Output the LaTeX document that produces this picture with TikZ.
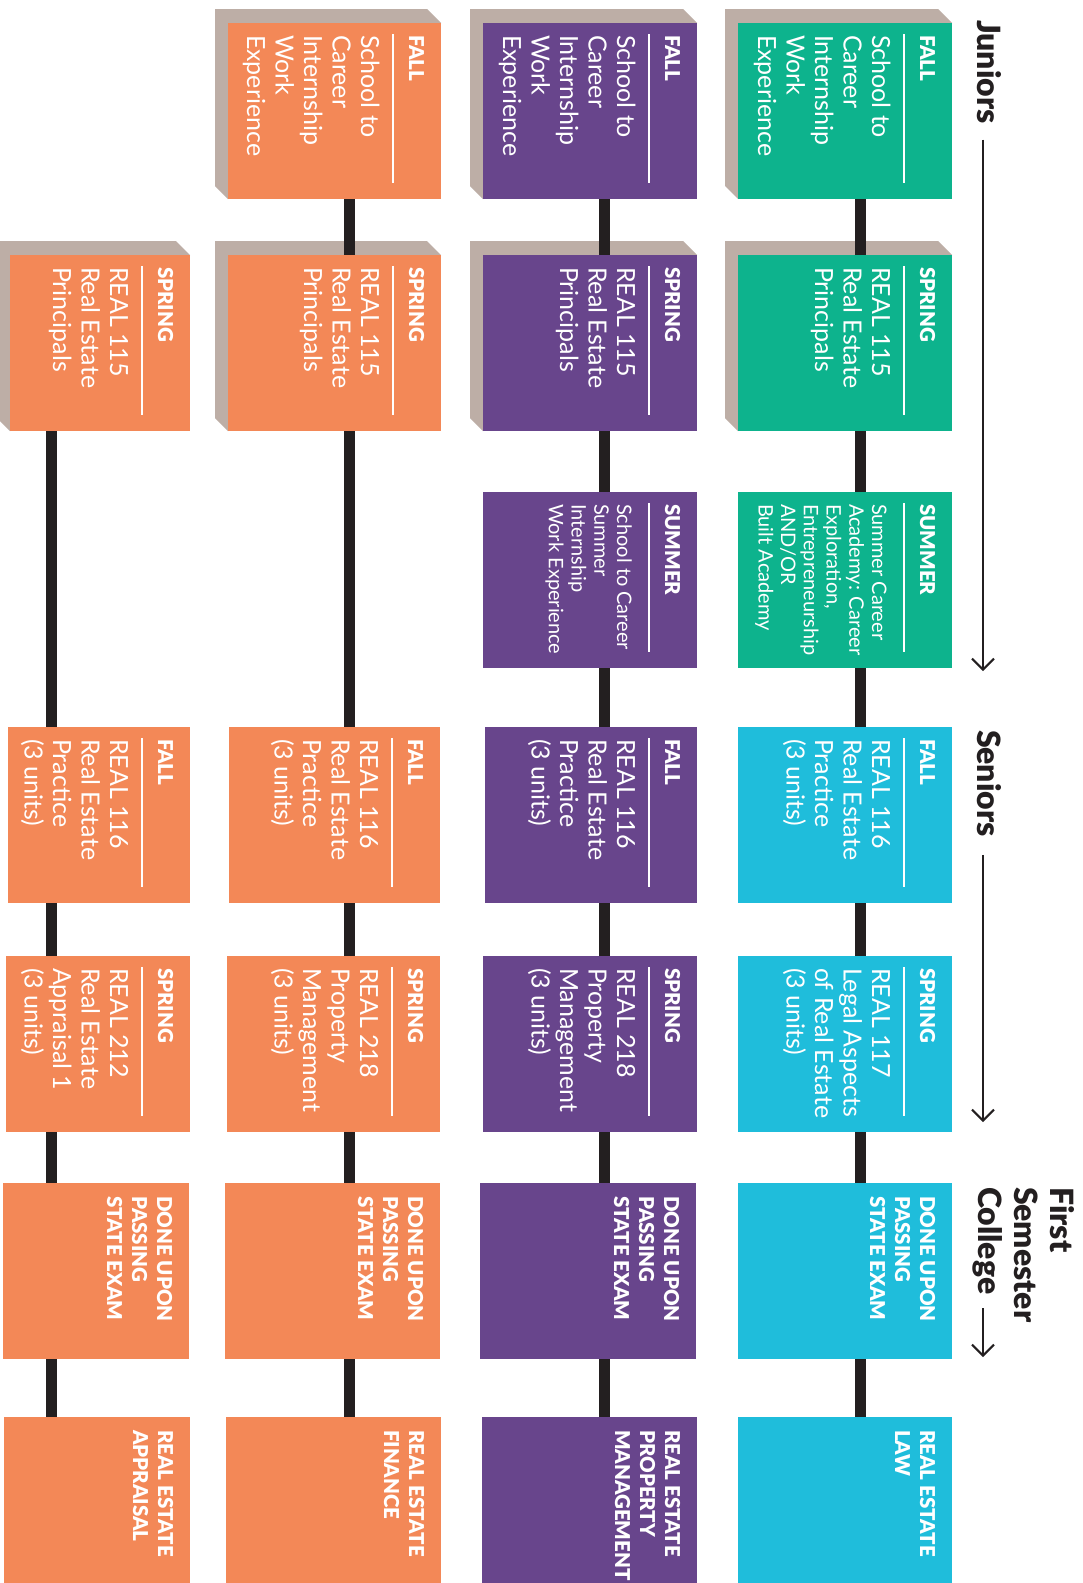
\documentclass[tikz,border=0pt]{standalone}
\usepackage{fontspec}
\setmainfont{Lato}
\IfFontExistsTF{Lato Black}{\newfontfamily\hvyfont{Lato Black}}{\newcommand{\hvyfont}{\bfseries}}
\usetikzlibrary{arrows.meta}
\definecolor{tealc}{HTML}{0DB38D}
\definecolor{cyanc}{HTML}{1FBDDB}
\definecolor{purpc}{HTML}{68458C}
\definecolor{orngc}{HTML}{F38857}
\definecolor{shadc}{HTML}{BDAEA6}
\definecolor{connc}{HTML}{231F20}
\newcommand{\Ln}[1]{\hbox{#1}}
\newcommand{\vlines}[2]{\vtop{\baselineskip=#1pt\lineskiplimit=-1000pt\lineskip=0pt #2}}
% shadow: L T R B
\newcommand{\shadowpoly}[4]{\fill[shadc] (#1-13,#2-14) -- (#3-14,#2-14) -- (#3,#2) -- (#1,#4) -- (#1-13,#4-13) -- cycle;}
% box: name color L T R B
\newcommand{\cbox}[6]{\node[boxn, fill=#2, minimum width={(#5)-(#3)}, minimum height={(#6)-(#4)}] (#1) at (#3,#4) {};}
% header + rule: name T R B text
\newcommand{\hdrule}[5]{\node[hdrs] (#1) at (#3-32,#2+12) {#5};
  \draw[rulel] (#3-48,#2+11) -- (#3-48,#4-16);}
% body: name T R style lines
\newcommand{\bodytext}[5]{\node[#4] (#1) at (#3-80,#2+12) {#5};}
% bold block (done / final): name T R lines
\newcommand{\boldblock}[4]{\node[hdrs] (#1) at (#3-32,#2+13) {\vlines{25}{#4}};}
\tikzset{
  boxn/.style={rectangle, inner sep=0pt, outer sep=0pt, anchor=north west, draw=none},
  rotxt/.style={rotate=-90, anchor=base west, inner sep=0pt, outer sep=0pt, text=white},
  hdrs/.style={rotxt, font=\hvyfont\fontsize{20.5}{25}\selectfont},
  bodyl/.style={rotxt, font=\fontsize{25}{28.5}\selectfont},
  bodys/.style={rotxt, font=\fontsize{20}{22.7}\selectfont},
  rulel/.style={draw=white, line width=2pt},
  conn/.style={draw=connc, line width=11pt, line cap=butt},
  lab/.style={rotate=-90, anchor=base west, inner sep=0pt, outer sep=0pt, text=connc, font=\hvyfont\fontsize{32}{36}\selectfont},
  arr/.style={draw=connc, line width=2pt, -{Straight Barb[length=11pt,width=22pt,line width=2pt]}}
}
\begin{document}
\begin{tikzpicture}[x=1pt,y=-1pt]
\fill[white] (0,0) rectangle (1083,1583);
\useasboundingbox (0,0) rectangle (1083,1583);
% ---------- Column 1 ----------
\shadowpoly{738}{23}{952}{199}
\cbox{c1r1}{tealc}{738}{23}{952}{199}
\hdrule{c1r1h}{23}{952}{199}{FALL}
\bodytext{c1r1b}{23}{952}{bodyl}{\vlines{28.5}{\Ln{School to}\Ln{Career}\Ln{Internship}\Ln{Work}\Ln{Experience}}}
\shadowpoly{738}{255}{952}{431}
\cbox{c1r2}{tealc}{738}{255}{952}{431}
\hdrule{c1r2h}{255}{952}{431}{SPRING}
\bodytext{c1r2b}{255}{952}{bodyl}{\vlines{28.5}{\Ln{REAL 115}\Ln{Real Estate}\Ln{Principals}}}
\cbox{c1r3}{tealc}{738}{492}{952}{668}
\hdrule{c1r3h}{492}{952}{668}{SUMMER}
\bodytext{c1r3b}{492}{952}{bodys}{\vlines{22.7}{\Ln{Summer Career}\Ln{Academy: Career}\Ln{Exploration,}\Ln{Entrepreneurship}\Ln{AND/OR}\Ln{Built Academy}}}
\cbox{c1r4}{cyanc}{738}{727}{952}{903}
\hdrule{c1r4h}{727}{952}{903}{FALL}
\bodytext{c1r4b}{727}{952}{bodyl}{\vlines{28.5}{\Ln{REAL 116}\Ln{Real Estate}\Ln{Practice}\Ln{(3 units)}}}
\cbox{c1r5}{cyanc}{738}{956}{952}{1132}
\hdrule{c1r5h}{956}{952}{1132}{SPRING}
\bodytext{c1r5b}{956}{952}{bodyl}{\vlines{28.5}{\Ln{REAL 117}\Ln{Legal Aspects}\Ln{of Real Estate}\Ln{(3 units)}}}
\cbox{c1r6}{cyanc}{738}{1183}{952}{1359}
\boldblock{c1r6t}{1183}{952}{\Ln{DONE UPON}\Ln{PASSING}\Ln{STATE EXAM}}
\cbox{c1r7}{cyanc}{738}{1417}{952}{1600}
\boldblock{c1r7t}{1417}{952}{\Ln{REAL ESTATE}\Ln{LAW}}
% ---------- Column 2 ----------
\shadowpoly{483}{23}{697}{199}
\cbox{c2r1}{purpc}{483}{23}{697}{199}
\hdrule{c2r1h}{23}{697}{199}{FALL}
\bodytext{c2r1b}{23}{697}{bodyl}{\vlines{28.5}{\Ln{School to}\Ln{Career}\Ln{Internship}\Ln{Work}\Ln{Experience}}}
\shadowpoly{483}{255}{697}{431}
\cbox{c2r2}{purpc}{483}{255}{697}{431}
\hdrule{c2r2h}{255}{697}{431}{SPRING}
\bodytext{c2r2b}{255}{697}{bodyl}{\vlines{28.5}{\Ln{REAL 115}\Ln{Real Estate}\Ln{Principals}}}
\cbox{c2r3}{purpc}{483}{492}{697}{668}
\hdrule{c2r3h}{492}{697}{668}{SUMMER}
\bodytext{c2r3b}{492}{697}{bodys}{\vlines{22.7}{\Ln{School to Career}\Ln{Summer}\Ln{Internship}\Ln{Work Experience}}}
\cbox{c2r4}{purpc}{485}{727}{697}{903}
\hdrule{c2r4h}{727}{697}{903}{FALL}
\bodytext{c2r4b}{727}{697}{bodyl}{\vlines{28.5}{\Ln{REAL 116}\Ln{Real Estate}\Ln{Practice}\Ln{(3 units)}}}
\cbox{c2r5}{purpc}{483}{956}{697}{1132}
\hdrule{c2r5h}{956}{697}{1132}{SPRING}
\bodytext{c2r5b}{956}{697}{bodyl}{\vlines{28.5}{\Ln{REAL 218}\Ln{Property}\Ln{Management}\Ln{(3 units)}}}
\cbox{c2r6}{purpc}{480}{1183}{696}{1359}
\boldblock{c2r6t}{1183}{696}{\Ln{DONE UPON}\Ln{PASSING}\Ln{STATE EXAM}}
\cbox{c2r7}{purpc}{482}{1417}{697}{1600}
\boldblock{c2r7t}{1417}{697}{\Ln{REAL ESTATE}\Ln{PROPERTY}\Ln{MANAGEMENT}}
% ---------- Column 3 ----------
\shadowpoly{228}{23}{441}{199}
\cbox{c3r1}{orngc}{228}{23}{441}{199}
\hdrule{c3r1h}{23}{441}{199}{FALL}
\bodytext{c3r1b}{23}{441}{bodyl}{\vlines{28.5}{\Ln{School to}\Ln{Career}\Ln{Internship}\Ln{Work}\Ln{Experience}}}
\shadowpoly{228}{255}{441}{431}
\cbox{c3r2}{orngc}{228}{255}{441}{431}
\hdrule{c3r2h}{255}{441}{431}{SPRING}
\bodytext{c3r2b}{255}{441}{bodyl}{\vlines{28.5}{\Ln{REAL 115}\Ln{Real Estate}\Ln{Principals}}}
\cbox{c3r4}{orngc}{229}{727}{440}{903}
\hdrule{c3r4h}{727}{440}{903}{FALL}
\bodytext{c3r4b}{727}{440}{bodyl}{\vlines{28.5}{\Ln{REAL 116}\Ln{Real Estate}\Ln{Practice}\Ln{(3 units)}}}
\cbox{c3r5}{orngc}{227}{956}{440}{1132}
\hdrule{c3r5h}{956}{440}{1132}{SPRING}
\bodytext{c3r5b}{956}{440}{bodyl}{\vlines{28.5}{\Ln{REAL 218}\Ln{Property}\Ln{Management}\Ln{(3 units)}}}
\cbox{c3r6}{orngc}{225}{1183}{440}{1359}
\boldblock{c3r6t}{1183}{440}{\Ln{DONE UPON}\Ln{PASSING}\Ln{STATE EXAM}}
\cbox{c3r7}{orngc}{226}{1417}{441}{1600}
\boldblock{c3r7t}{1417}{441}{\Ln{REAL ESTATE}\Ln{FINANCE}}
% ---------- Column 4 ----------
\shadowpoly{10}{255}{190}{431}
\cbox{c4r2}{orngc}{10}{255}{190}{431}
\hdrule{c4r2h}{255}{190}{431}{SPRING}
\bodytext{c4r2b}{255}{190}{bodyl}{\vlines{28.5}{\Ln{REAL 115}\Ln{Real Estate}\Ln{Principals}}}
\cbox{c4r4}{orngc}{8}{727}{190}{903}
\hdrule{c4r4h}{727}{190}{903}{FALL}
\bodytext{c4r4b}{727}{190}{bodyl}{\vlines{28.5}{\Ln{REAL 116}\Ln{Real Estate}\Ln{Practice}\Ln{(3 units)}}}
\cbox{c4r5}{orngc}{6}{956}{190}{1132}
\hdrule{c4r5h}{956}{190}{1132}{SPRING}
\bodytext{c4r5b}{956}{190}{bodyl}{\vlines{28.5}{\Ln{REAL 212}\Ln{Real Estate}\Ln{Appraisal 1}\Ln{(3 units)}}}
\cbox{c4r6}{orngc}{3}{1183}{189}{1359}
\boldblock{c4r6t}{1183}{189}{\Ln{DONE UPON}\Ln{PASSING}\Ln{STATE EXAM}}
\cbox{c4r7}{orngc}{4}{1417}{190}{1600}
\boldblock{c4r7t}{1417}{190}{\Ln{REAL ESTATE}\Ln{APPRAISAL}}
% ---------- Connectors ----------
\coordinate (x1) at (860,0);
\coordinate (x2) at (604,0);
\coordinate (x3) at (349,0);
\coordinate (x4) at (51,0);
\draw[conn] (c1r1.south -| x1) -- (c1r2.north -| x1);
\draw[conn] (c1r2.south -| x1) -- (c1r3.north -| x1);
\draw[conn] (c1r3.south -| x1) -- (c1r4.north -| x1);
\draw[conn] (c1r4.south -| x1) -- (c1r5.north -| x1);
\draw[conn] (c1r5.south -| x1) -- (c1r6.north -| x1);
\draw[conn] (c1r6.south -| x1) -- (c1r7.north -| x1);
\draw[conn] (c2r1.south -| x2) -- (c2r2.north -| x2);
\draw[conn] (c2r2.south -| x2) -- (c2r3.north -| x2);
\draw[conn] (c2r3.south -| x2) -- (c2r4.north -| x2);
\draw[conn] (c2r4.south -| x2) -- (c2r5.north -| x2);
\draw[conn] (c2r5.south -| x2) -- (c2r6.north -| x2);
\draw[conn] (c2r6.south -| x2) -- (c2r7.north -| x2);
\draw[conn] (c3r1.south -| x3) -- (c3r2.north -| x3);
\draw[conn] (c3r2.south -| x3) -- (c3r4.north -| x3);
\draw[conn] (c3r4.south -| x3) -- (c3r5.north -| x3);
\draw[conn] (c3r5.south -| x3) -- (c3r6.north -| x3);
\draw[conn] (c3r6.south -| x3) -- (c3r7.north -| x3);
\draw[conn] (c4r2.south -| x4) -- (c4r4.north -| x4);
\draw[conn] (c4r4.south -| x4) -- (c4r5.north -| x4);
\draw[conn] (c4r5.south -| x4) -- (c4r6.north -| x4);
\draw[conn] (c4r6.south -| x4) -- (c4r7.north -| x4);
% ---------- Section labels ----------
\coordinate (ax) at (983,0);
\node[lab] (jun) at (977,20) {Juniors};
\node[lab] (sen) at (977,730) {Seniors};
\node[lab] (fst) at (1050,1187) {First};
\node[lab] (sem) at (1014,1187) {Semester};
\node[lab] (col) at (978,1187) {College};
\coordinate (jtip) at (983,671);
\coordinate (stip) at (983,1122);
\coordinate (ctip) at (983,1357);
\draw[arr] ([yshift=-16pt]jun.east -| ax) -- (jtip);
\draw[arr] ([yshift=-18pt]sen.east -| ax) -- (stip);
\draw[arr] ([yshift=-14pt]col.east -| ax) -- (ctip);
\end{tikzpicture}
\end{document}
